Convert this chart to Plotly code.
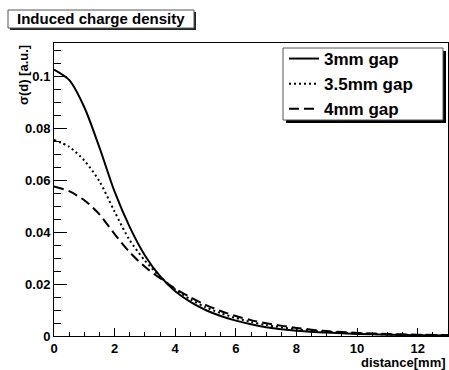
import plotly.graph_objects as go

# ---- data ----
distance = [0, 0.5, 1.0, 1.5, 2.0, 2.5, 3.0, 3.5, 4.0, 4.5, 5.0, 5.5, 6.0, 6.5,
            7.0, 8.0, 9.0, 10.0, 11.0, 12.0, 13.0]
gap_3mm = [0.1025, 0.0985, 0.0880, 0.0725, 0.0555, 0.0419, 0.0310, 0.0230,
           0.0172, 0.0131, 0.0100, 0.0077, 0.0059, 0.0045, 0.0034, 0.0020,
           0.0013, 0.0008, 0.0005, 0.0003, 0.0002]
gap_35mm = [0.0754, 0.0728, 0.0675, 0.0595, 0.0478, 0.0368, 0.0290, 0.0228,
            0.0179, 0.0141, 0.0111, 0.0088, 0.0069, 0.0054, 0.0042, 0.0026,
            0.0016, 0.0010, 0.0006, 0.0004, 0.0003]
gap_4mm = [0.0575, 0.0557, 0.0522, 0.0468, 0.0392, 0.0322, 0.0266, 0.0222,
           0.0182, 0.0149, 0.0120, 0.0096, 0.0077, 0.0061, 0.0049, 0.0031,
           0.0019, 0.0012, 0.0008, 0.0005, 0.0003]
series_names = ["3mm gap", "3.5mm gap", "4mm gap"]
x_ticks = [0, 2, 4, 6, 8, 10, 12]
y_ticks = [0, 0.02, 0.04, 0.06, 0.08, 0.1]
y_tick_labels = ["0", "0.02", "0.04", "0.06", "0.08", "0.1"]

W, H = 449, 370
L, R, T, B = 54, 1, 43, 34
PW, PH = W - L - R, H - T - B

def px(x):
    return (x - L) / PW

def py(y):
    return (H - B - y) / PH

FONT = "Liberation Sans, Arial, sans-serif"

fig = go.Figure()
styles = [dict(dash="solid"), dict(dash="2px,3px"), dict(dash="10px,5px")]
for i, (name, vals) in enumerate(zip(series_names, [gap_3mm, gap_35mm, gap_4mm])):
    fig.add_trace(go.Scatter(
        x=distance, y=vals, mode="lines", name=name,
        line=dict(color="black", width=2, shape="spline", smoothing=0.8, **styles[i]),
    ))

shapes = [
    # title box shadow + box
    dict(type="rect", xref="paper", yref="paper", x0=px(10), x1=px(196), y0=py(30), y1=py(12),
         fillcolor="#222", line=dict(width=0), layer="above"),
    dict(type="rect", xref="paper", yref="paper", x0=px(8), x1=px(194), y0=py(28), y1=py(10),
         fillcolor="white", line=dict(color="#555", width=1), layer="above"),
    # legend box shadow + box
    dict(type="rect", xref="paper", yref="paper", x0=px(286), x1=px(446), y0=py(123), y1=py(51),
         fillcolor="black", line=dict(width=0), layer="above"),
    dict(type="rect", xref="paper", yref="paper", x0=px(283), x1=px(443), y0=py(120), y1=py(48),
         fillcolor="white", line=dict(color="#555", width=1), layer="above"),
]

annotations = [
    dict(text="Induced charge density", xref="paper", yref="paper", x=px(101), y=py(19),
         xanchor="center", yanchor="middle", showarrow=False,
         font=dict(family=FONT, size=15, color="black", weight="bold")),
    dict(text="σ(d) [a.u.]", xref="paper", yref="paper", x=px(23), y=py(43),
         xanchor="center", yanchor="top", textangle=-90, showarrow=False,
         font=dict(family=FONT, size=13, color="black", weight="bold")),
    dict(text="distance[mm]", xref="paper", yref="paper", x=px(448), y=py(362),
         xanchor="right", yanchor="middle", showarrow=False,
         font=dict(family=FONT, size=13, color="black", weight="bold")),
]

fig.update_layout(
    width=W, height=H,
    margin=dict(l=L, r=R, t=T, b=B, pad=0),
    paper_bgcolor="white", plot_bgcolor="white",
    showlegend=True,
    legend=dict(x=px(284), y=py(41), xanchor="left", yanchor="top",
                bgcolor="rgba(0,0,0,0)", borderwidth=0,
                font=dict(family=FONT, size=17, color="black", weight="bold"),
                itemwidth=30, tracegroupgap=0, traceorder="normal"),
    shapes=shapes, annotations=annotations,
    xaxis=dict(range=[0, 13], tickvals=x_ticks, ticks="inside", ticklen=8, tickcolor="black",
               showline=True, linecolor="black", linewidth=1, mirror=True, showgrid=False,
               zeroline=False,
               tickfont=dict(family=FONT, size=13, color="black", weight="bold"),
               minor=dict(ticks="inside", ticklen=4, dtick=0.5, tickcolor="black", showgrid=False)),
    yaxis=dict(range=[0, 0.1127], tickvals=y_ticks, ticktext=y_tick_labels, ticks="inside",
               ticklen=13, tickcolor="black",
               showline=True, linecolor="black", linewidth=1, mirror=True, showgrid=False,
               zeroline=False,
               tickfont=dict(family=FONT, size=13, color="black", weight="bold"),
               minor=dict(ticks="inside", ticklen=7, dtick=0.005, tickcolor="black", showgrid=False)),
)

fig.write_html("out.html", config={"displayModeBar": False},
               post_script="document.body.style.margin='0';document.body.style.overflow='hidden';")
